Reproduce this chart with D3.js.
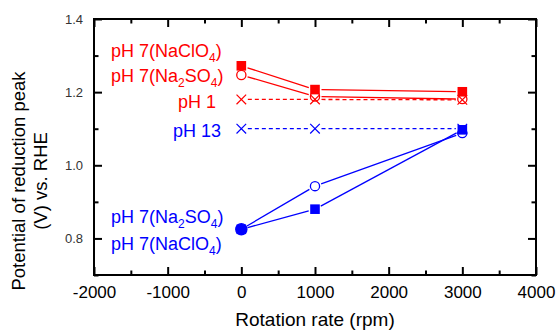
<!DOCTYPE html>
<html>
<head>
<meta charset="utf-8">
<script src="https://cdn.jsdelivr.net/npm/d3@7"></script>
<style>
  body { margin: 0; background: #fff; }
  svg text { font-family: "Liberation Sans", Arial, sans-serif; }
</style>
</head>
<body>
<figure id="chart" style="margin:0"></figure>
<script>
// data
const rpm = [0, 1000, 3000];
const redNaClO4 = [1.272, 1.207, 1.201];
const redNa2SO4 = [1.247, 1.188, 1.181];
const redPH1 = [1.180, 1.180, 1.179];
const bluePH13 = [1.100, 1.100, 1.100];
const blueNaClO4 = [0.825, 0.880, 1.097];
const blueNa2SO4 = [0.825, 0.943, 1.088];

const xMajor = [-2000, -1000, 0, 1000, 2000, 3000, 4000];
const xMinor = [-1500, -500, 500, 1500, 2500, 3500];
const yMajor = [0.8, 1.0, 1.2, 1.4];
const yMinor = [0.7, 0.9, 1.1, 1.3];

const RED = "#ff0000";
const BLUE = "#0000ff";

const width = 558, height = 330;
const margin = {top: 19, right: 22, bottom: 55, left: 94};
const innerW = width - margin.left - margin.right;
const innerH = height - margin.top - margin.bottom;

const svg = d3.select("figure#chart")
  .append("svg")
  .attr("width", width)
  .attr("height", height);

const g = svg.append("g")
  .attr("transform", "translate(" + margin.left + "," + margin.top + ")");

const x = d3.scaleLinear().domain([-2000, 4000]).range([0, innerW]);
const y = d3.scaleLinear().domain([0.7, 1.4]).range([innerH, 0]);

// axes, ticks pointing inward
function styleAxis(sel) {
  sel.select(".domain").remove();
  sel.selectAll(".tick line").attr("stroke", "#000").attr("stroke-width", 2);
}

g.append("g")
  .attr("transform", "translate(0," + innerH + ")")
  .call(d3.axisBottom(x).tickValues(xMajor).tickSize(-8).tickPadding(11).tickFormat(d => String(d)))
  .call(styleAxis)
  .selectAll("text").attr("font-size", 17).attr("fill", "#000")
  .style("font-family", "'Liberation Sans', Arial, sans-serif");
g.append("g")
  .attr("transform", "translate(0," + innerH + ")")
  .call(d3.axisBottom(x).tickValues(xMinor).tickSize(-4.5).tickFormat(""))
  .call(styleAxis);
g.append("g")
  .call(d3.axisTop(x).tickValues(xMajor).tickSize(-8).tickFormat(""))
  .call(styleAxis);
g.append("g")
  .call(d3.axisTop(x).tickValues(xMinor).tickSize(-4.5).tickFormat(""))
  .call(styleAxis);

g.append("g")
  .call(d3.axisLeft(y).tickValues(yMajor).tickSize(-8).tickPadding(11).tickFormat(d3.format(".1f")))
  .call(styleAxis)
  .selectAll("text").attr("font-size", 13).attr("fill", "#333")
  .style("font-family", "'Liberation Sans', Arial, sans-serif");
g.append("g")
  .call(d3.axisLeft(y).tickValues(yMinor).tickSize(-4.5).tickFormat(""))
  .call(styleAxis);
g.append("g")
  .attr("transform", "translate(" + innerW + ",0)")
  .call(d3.axisRight(y).tickValues(yMajor).tickSize(-8).tickFormat(""))
  .call(styleAxis);
g.append("g")
  .attr("transform", "translate(" + innerW + ",0)")
  .call(d3.axisRight(y).tickValues(yMinor).tickSize(-4.5).tickFormat(""))
  .call(styleAxis);

g.append("rect")
  .attr("width", innerW)
  .attr("height", innerH)
  .attr("fill", "none")
  .attr("stroke", "#000")
  .attr("stroke-width", 2);

// series
const series = [
  {values: redPH1, color: RED, marker: "cross", dash: "4,3"},
  {values: bluePH13, color: BLUE, marker: "cross", dash: "4,3"},
  {values: redNaClO4, color: RED, marker: "square"},
  {values: blueNaClO4, color: BLUE, marker: "square"},
  {values: redNa2SO4, color: RED, marker: "circle"},
  {values: blueNa2SO4, color: BLUE, marker: "circle", filledFirst: true}
];

// segments with a small gap at each marker
const gap = 6.5;
series.forEach(s => {
  const pts = rpm.map((r, i) => [x(r), y(s.values[i])]);
  const segs = d3.pairs(pts).map(([a, b]) => {
    const dx = b[0] - a[0], dy = b[1] - a[1];
    const len = Math.hypot(dx, dy);
    const ux = dx / len, uy = dy / len;
    return [[a[0] + ux * gap, a[1] + uy * gap], [b[0] - ux * gap, b[1] - uy * gap]];
  });
  g.selectAll(null)
    .data(segs)
    .enter()
    .append("path")
    .attr("d", d => d3.line()(d))
    .attr("fill", "none")
    .attr("stroke", s.color)
    .attr("stroke-width", 1.3)
    .attr("stroke-dasharray", s.dash || null);
});

series.forEach(s => {
  const pts = rpm.map((r, i) => ({px: x(r), py: y(s.values[i]), i: i}));
  const sel = g.selectAll(null).data(pts).enter();
  if (s.marker === "square") {
    sel.append("rect")
      .attr("x", d => d.px - 4.8)
      .attr("y", d => d.py - 4.8)
      .attr("width", 9.6)
      .attr("height", 9.6)
      .attr("fill", s.color);
  } else if (s.marker === "circle") {
    const filled = d => s.filledFirst && d.i === 0;
    sel.append("circle")
      .attr("cx", d => d.px)
      .attr("cy", d => d.py)
      .attr("r", d => filled(d) ? 5.6 : 4.6)
      .attr("fill", d => filled(d) ? s.color : "none")
      .attr("stroke", s.color)
      .attr("stroke-width", 1.3);
  } else {
    sel.append("path")
      .attr("d", d => "M" + (d.px - 4.8) + "," + (d.py - 4.8) + "L" + (d.px + 4.8) + "," + (d.py + 4.8) +
        "M" + (d.px - 4.8) + "," + (d.py + 4.8) + "L" + (d.px + 4.8) + "," + (d.py - 4.8))
      .attr("stroke", s.color)
      .attr("stroke-width", 1.2)
      .attr("fill", "none");
  }
});

// series labels (with subscripts)
const labels = [
  {parts: [["pH 7(NaClO"], ["4", true], [")"]], color: RED, x: 111, y: 57},
  {parts: [["pH 7(Na"], ["2", true], ["SO"], ["4", true], [")"]], color: RED, x: 111, y: 82},
  {parts: [["pH 1"]], color: RED, x: 178, y: 108},
  {parts: [["pH 13"]], color: BLUE, x: 173, y: 137},
  {parts: [["pH 7(Na"], ["2", true], ["SO"], ["4", true], [")"]], color: BLUE, x: 111, y: 223},
  {parts: [["pH 7(NaClO"], ["4", true], [")"]], color: BLUE, x: 111, y: 250}
];

labels.forEach(l => {
  const t = svg.append("text")
    .attr("x", l.x)
    .attr("y", l.y)
    .attr("fill", l.color)
    .attr("font-size", 18);
  let low = false;
  l.parts.forEach(([txt, sub]) => {
    const span = t.append("tspan").text(txt);
    if (sub && !low) { span.attr("dy", 5).attr("font-size", 12); low = true; }
    else if (sub) { span.attr("font-size", 12); }
    else if (low) { span.attr("dy", -5); low = false; }
  });
});

// axis titles
svg.append("text")
  .attr("x", margin.left + innerW / 2)
  .attr("y", 326)
  .attr("text-anchor", "middle")
  .attr("font-size", 19)
  .attr("fill", "#000")
  .text("Rotation rate (rpm)");

const yTitle = svg.append("text")
  .attr("transform", "translate(0,181) rotate(-90)")
  .attr("text-anchor", "middle")
  .attr("font-size", 18.5)
  .attr("fill", "#000");
yTitle.append("tspan").attr("x", 0).attr("y", 25).text("Potential of reduction peak");
yTitle.append("tspan").attr("x", 0).attr("y", 47).text("(V) vs. RHE");
</script>
</body>
</html>
